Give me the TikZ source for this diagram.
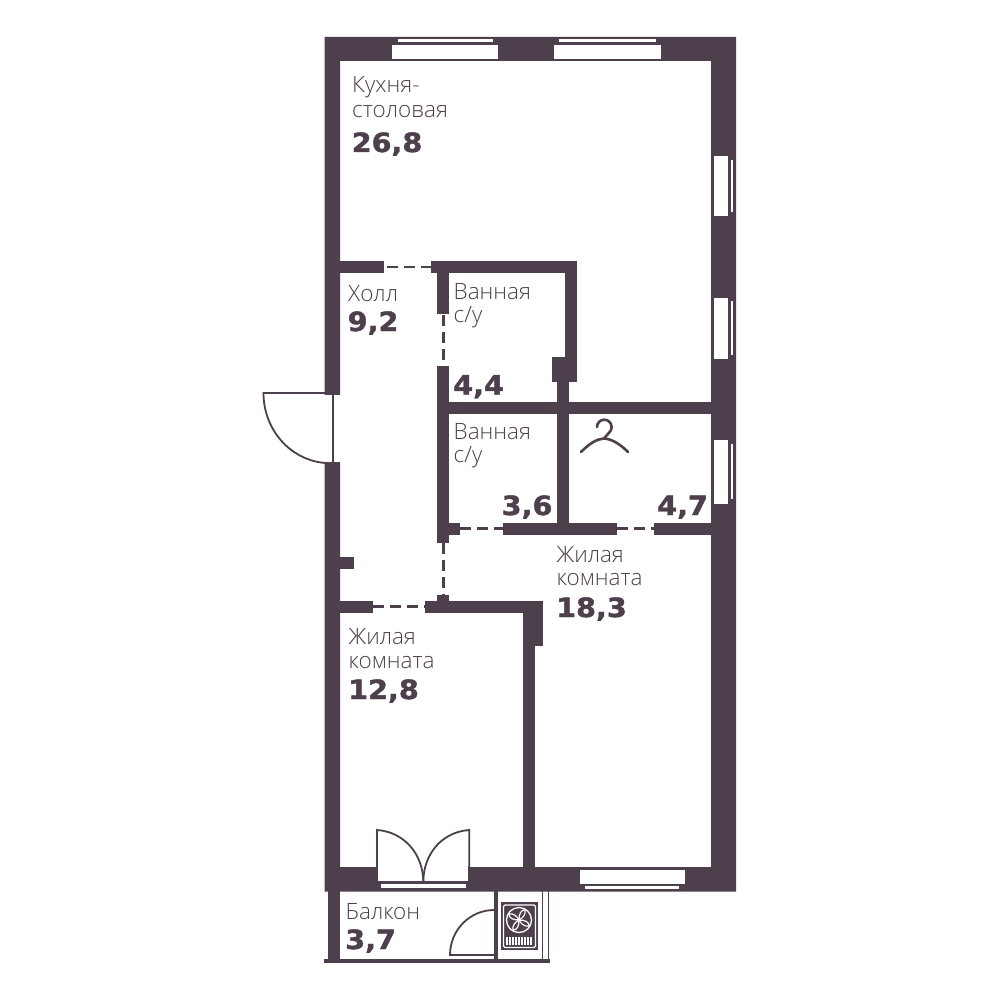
\documentclass[tikz,border=0pt]{standalone}
\usepackage{fontspec}
\setmainfont{Open Sans Light}
\newfontfamily\numfont[FakeBold=1.6,FakeStretch=1.08]{DejaVu Sans Bold}
\definecolor{wallc}{HTML}{4D3F4B}
\tikzset{
  wall/.style={fill=wallc,draw=none},
  opening/.style={fill=white,draw=none},
  doorline/.style={draw=wallc,line width=1.8pt},
  dashline/.style={draw=wallc,line width=2.5pt,dash pattern=on 11pt off 6pt},
  lab/.style={anchor=base west,text=wallc,font=\fontsize{22.5}{22.5}\selectfont,inner sep=0pt},
  num/.style={anchor=base west,text=wallc,font=\numfont\fontsize{26.5}{26.5}\selectfont,inner sep=0pt}
}
\begin{document}
\begin{tikzpicture}[x=1pt,y=-1pt]
\useasboundingbox (0,0) rectangle (1000,1000);
\fill[white] (0,0) rectangle (1000,1000);
% outer shell
\fill[wall,even odd rule] (324.5,37) rectangle (736,891.5) (340,61) rectangle (711,867);
% door openings in shell
\fill[opening] (323,395) rectangle (341,461.5);
\fill[opening] (376,866) rectangle (469,882);
% windows top
\foreach \a/\b/\c/\d in {392/498/398/493,554/660.5/559/656}{
  \fill[opening] (\a,45) rectangle (\b,59);
  \fill[opening] (\c,39.5) rectangle (\d,42.5);
}
% windows right
\foreach \a/\b/\c/\d in {156/216.5/160/212.5,297.5/358.5/301/355,440/504/443.5/499}{
  \fill[opening] (714,\a) rectangle (728,\b);
  \fill[opening] (730.7,\c) rectangle (733.3,\d);
}
% window bottom
\fill[opening] (580,869.5) rectangle (684.5,883.5);
\fill[opening] (585,886) rectangle (679,888.7);
% balcony door window
\fill[opening] (381,884) rectangle (466,888.3);
% interior walls
\fill[wall] (340,261) rectangle (384,273);
\fill[wall] (431,261) rectangle (576.7,273);
\fill[wall] (437.3,273) rectangle (449,314);
\fill[wall] (564.7,273) rectangle (576.7,381.7);
\fill[wall] (552,357) rectangle (576.7,381.7);
\fill[wall] (437.3,366) rectangle (449,543);
\fill[wall] (437.3,402) rectangle (711,414);
\fill[wall] (557.3,381) rectangle (569.3,535);
\fill[wall] (449,523.3) rectangle (460,535.3);
\fill[wall] (503.3,523.3) rectangle (617.3,535.3);
\fill[wall] (654,523.3) rectangle (711,535.3);
\fill[wall] (340,557) rectangle (353.7,569);
\fill[wall] (340,600.7) rectangle (372.7,612.7);
\fill[wall] (425,600.7) rectangle (543.3,612.7);
\fill[wall] (437.3,594.7) rectangle (449.3,601);
\fill[wall] (523.3,600.7) rectangle (543.3,646);
\fill[wall] (523.3,640) rectangle (535,867);
% dashed doors
\coordinate (d1a) at (387,267); \coordinate (d1b) at (431,267);
\coordinate (d2a) at (443.7,315); \coordinate (d2b) at (443.7,366);
\coordinate (d3a) at (460,528.7); \coordinate (d3b) at (503.3,528.7);
\coordinate (d4a) at (617.3,528.5); \coordinate (d4b) at (654,528.5);
\coordinate (d5a) at (443.7,543); \coordinate (d5b) at (443.7,594.7);
\coordinate (d6a) at (373,606.7); \coordinate (d6b) at (425,606.7);
\foreach \p/\q in {d1a/d1b,d2a/d2b,d3a/d3b,d4a/d4b,d5a/d5b,d6a/d6b}{
  \draw[dashline] (\p) -- (\q);
}
% entrance door
\draw[doorline] (333,395) -- (333,461.5);
\draw[doorline] (325,393) -- (263.5,393) .. controls (263.5,431) and (292,461) .. (326,463);
% balcony door (double leaf)
\draw[doorline] (377,866) -- (377,830) .. controls (405,832) and (423.3,855) .. (423.3,882);
\draw[doorline] (469.3,866) -- (469.3,830) .. controls (441,832) and (423.3,855) .. (423.3,882);
\draw[doorline] (377,882) -- (469.3,882);
\draw[doorline] (377,866) -- (377,882);
\draw[doorline] (469.3,866) -- (469.3,882);
% balcony
\fill[wall] (328,891) rectangle (339.7,960);
\fill[wall] (324.3,959.3) rectangle (550,962.7);
\fill[wall] (494,891) rectangle (497.7,960);
\draw[doorline] (542.5,891) -- (542.5,960);
\draw[doorline] (548.5,891) -- (548.5,960);
\draw[doorline] (494,955) -- (450,955) .. controls (450,930) and (470,910) .. (494,910);
% ventilation unit
\fill[wall] (501,902.3) rectangle (538,950);
\draw[white,line width=1.2pt,rounded corners=1.5pt] (503.5,905) rectangle (535.5,947.5);
\draw[white,line width=1.3pt] (519,920) circle[radius=12.5];
\foreach \r in {15,105,195,285}{
  \draw[white,line width=1.2pt,rotate around={\r:(519,920)}] (519,920) .. controls (520.5,914) and (523.5,911) .. (527.5,911.5) .. controls (527.5,916) and (523.5,919) .. (519,920);
}
\foreach \x in {507,510,513,516,519,522,525,528,531}{
  \draw[white,line width=1.2pt] (\x,937) -- (\x,944.5);
}
% hanger
\draw[wallc,line width=2.6pt,line cap=round] (581,452) .. controls (590,443) and (597,439) .. (604,438.5) .. controls (611,439) and (619,443) .. (628,452);
\draw[wallc,line width=2.6pt,line cap=round] (597,427) arc[start angle=180,end angle=400,radius=7.3] -- (604,438.5);
% labels
\node[lab] (t1a) at (352,93) {Кухня-};
\node[lab] (t1b) at (352,117.3) {столовая};
\node[num] (n1) at (351.5,152) {26,8};
\node[lab] (t2) at (348,301) {Холл};
\node[num] (n2) at (347.5,331) {9,2};
\node[lab] (t3a) at (453.5,299) {Ванная};
\node[lab] (t3b) at (453.5,322) {с/у};
\node[num] (n3) at (453,394.5) {4,4};
\node[lab] (t4a) at (453.5,439.3) {Ванная};
\node[lab] (t4b) at (453.5,462) {с/у};
\node[num] (n4) at (501.5,515) {3,6};
\node[num] (n5) at (657,515) {4,7};
\node[lab] (t5a) at (556.5,562) {Жилая};
\node[lab] (t5b) at (556.5,585) {комната};
\node[num] (n6) at (556,617) {18,3};
\node[lab] (t6a) at (348.5,644.5) {Жилая};
\node[lab] (t6b) at (348.5,668) {комната};
\node[num] (n7) at (348,699) {12,8};
\node[lab] (t7) at (345.5,919.5) {Балкон};
\node[num] (n8) at (345,949) {3,7};
\end{tikzpicture}
\end{document}
